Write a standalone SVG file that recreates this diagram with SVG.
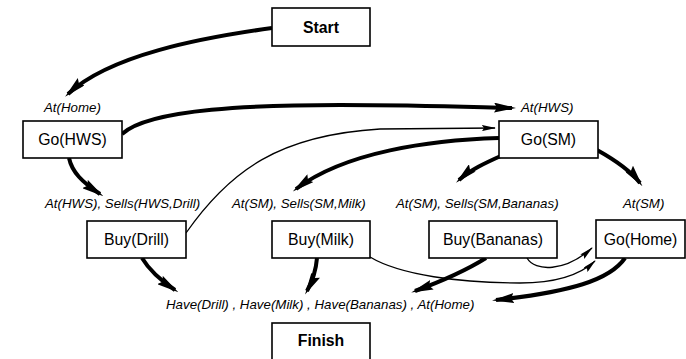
<svg xmlns="http://www.w3.org/2000/svg" width="686" height="359" viewBox="0 0 686 359">
<style>
.box{fill:#fff;stroke:#000;stroke-width:1.6}
.t{font-family:"Liberation Sans",Arial,sans-serif;font-size:15.8px;text-anchor:middle;fill:#000}
.b{font-weight:bold}
.l{font-family:"Liberation Sans",Arial,sans-serif;font-size:13.3px;font-style:italic;fill:#000}
.thick{fill:none;stroke:#000;stroke-width:4;marker-end:url(#hk)}
.thin{fill:none;stroke:#000;stroke-width:1.3;marker-end:url(#hn)}
</style>
<defs>
<marker id="hk" viewBox="0 0 22 10" refX="18" refY="5" markerWidth="22" markerHeight="10" markerUnits="userSpaceOnUse" orient="auto">
<path d="M0,0 L22,5 L0,10 L3,5 z" fill="#000"/>
</marker>
<marker id="hn" viewBox="0 0 14 6" refX="13" refY="3" markerWidth="14" markerHeight="6" markerUnits="userSpaceOnUse" orient="auto">
<path d="M0,0 L14,3 L0,6 L2,3 z" fill="#000"/>
</marker>
</defs>
<g id="connectors">
<path class="thick" d="M272,28 C200,38 110,55 68,94"/>
<path class="thick" d="M122,134 C150,108 260,105 340,105 S470,107 512,108"/>
<path class="thin" d="M186,233 C230,170 280,135 380,129 L495,128"/>
<path class="thick" d="M499,138 C430,140 345,152 296,189"/>
<path class="thick" d="M503,155 C485,163 470,170 459,180"/>
<path class="thick" d="M597,150 C615,160 630,170 640,183"/>
<path class="thick" d="M69,158 C72,172 82,182 100,194"/>
<path class="thick" d="M142,258 C148,268 160,280 175,290"/>
<path class="thick" d="M317,258 C316,270 312,282 307,291"/>
<path class="thick" d="M486,258 C470,268 445,280 415,291"/>
<path class="thick" d="M625,258 C610,280 570,292 496,300"/>
<path class="thin" d="M370,257 C400,275 460,283 520,283 C555,283 580,275 595,261"/>
<path class="thin" d="M527,258 C535,272 565,272 592,248"/>
</g>
<g id="start"><rect class="box" x="272" y="8" width="98" height="38"/><text class="t b" x="321" y="33">Start</text></g>
<g id="go-hws"><rect class="box" x="23" y="121" width="99" height="37"/><text class="t" x="72.5" y="145">Go(HWS)</text></g>
<g id="go-sm"><rect class="box" x="499" y="121" width="99" height="37"/><text class="t" x="548.5" y="145">Go(SM)</text></g>
<g id="buy-drill"><rect class="box" x="87" y="221" width="99" height="37"/><text class="t" x="136.5" y="245">Buy(Drill)</text></g>
<g id="buy-milk"><rect class="box" x="272" y="221" width="98" height="37"/><text class="t" x="321" y="245">Buy(Milk)</text></g>
<g id="buy-bananas"><rect class="box" x="429" y="221" width="128" height="37"/><text class="t" x="493" y="245">Buy(Bananas)</text></g>
<g id="go-home"><rect class="box" x="596" y="220" width="89" height="38"/><text class="t" x="640.5" y="245">Go(Home)</text></g>
<g id="finish"><rect class="box" x="272" y="323" width="98" height="40"/><text class="t b" x="321" y="346">Finish</text></g>
<g id="labels">
<text class="l" x="44" y="112">At(Home)</text>
<text class="l" x="521" y="112">At(HWS)</text>
<text class="l" x="45" y="208">At(HWS), Sells(HWS,Drill)</text>
<text class="l" x="232" y="208">At(SM), Sells(SM,Milk)</text>
<text class="l" x="396" y="208">At(SM), Sells(SM,Bananas)</text>
<text class="l" x="623" y="208">At(SM)</text>
<text class="l" x="166" y="309">Have(Drill) , Have(Milk) , Have(Bananas) , At(Home)</text>
</g>
</svg>
